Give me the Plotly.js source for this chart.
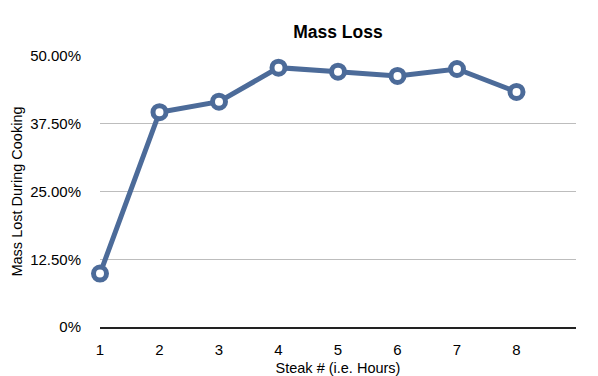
<!DOCTYPE html>
<html>
<head>
<meta charset="utf-8">
<script src="https://cdn.plot.ly/plotly-3.0.1.min.js"></script>
<style>html,body{margin:0;padding:0;background:#fff;}#chart{width:598px;height:376px;}</style>
</head>
<body>
<div id="chart"></div>
<script>
const steaks = [1, 2, 3, 4, 5, 6, 7, 8];
const massLoss = [9.85, 39.63, 41.58, 47.85, 47.11, 46.32, 47.6, 43.37];
const yTickVals = [0, 12.5, 25, 37.5, 50];
const yTickText = ['0%', '12.50%', '25.00%', '37.50%', '50.00%'];
const xTickVals = [1, 2, 3, 4, 5, 6, 7, 8];

const color = '#4c6b99';
const trace = {
  x: steaks, y: massLoss, type: 'scatter', mode: 'lines+markers',
  line: {color: color, width: 5},
  marker: {size: 13, color: '#ffffff', line: {color: color, width: 5}},
  cliponaxis: false, hoverinfo: 'none'
};
const layout = {
  width: 598, height: 376,
  margin: {l: 100, r: 22, t: 56, b: 48.5},
  paper_bgcolor: '#fff', plot_bgcolor: '#fff',
  font: {family: 'Liberation Sans, Arial, sans-serif', color: '#000', size: 15},
  showlegend: false,
  title: {text: '<b>Mass Loss</b>', font: {size: 17.5, color: '#000'}, x: 0.5652, xanchor: 'center', y: 0.915, yanchor: 'middle'},
  xaxis: {
    range: [1, 9], tickvals: xTickVals, ticktext: xTickVals.map(String),
    showgrid: false, zeroline: false, showline: true, linecolor: '#222', linewidth: 1.5,
    ticks: '', ticklabelstandoff: 8, tickfont: {size: 15},
    title: {text: 'Steak # (i.e. Hours)', font: {size: 14.5}, standoff: 6}
  },
  yaxis: {
    range: [0, 50], tickvals: yTickVals, ticktext: yTickText,
    showgrid: true, gridcolor: '#bdbdbd', gridwidth: 1, zeroline: false, showline: false,
    ticks: '', ticklabelstandoff: 18, tickfont: {size: 15},
    title: {text: 'Mass Lost During Cooking', font: {size: 14.5}, standoff: 4}
  }
};
Plotly.newPlot('chart', [trace], layout, {staticPlot: true, displayModeBar: false});
</script>
</body>
</html>
